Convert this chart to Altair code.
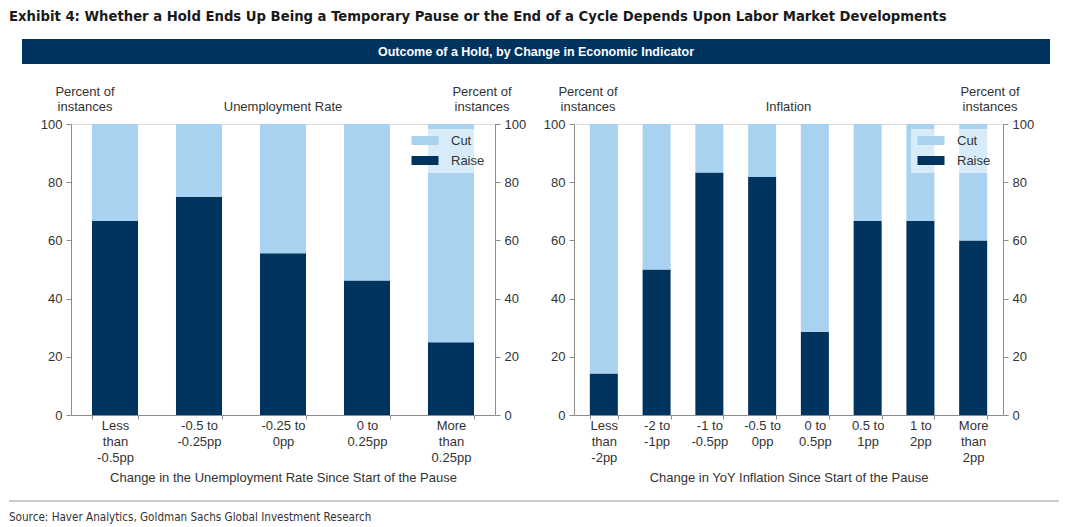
import altair as alt
import pandas as pd

# ---------------- data ----------------
unemp_cats = ["Less\nthan\n-0.5pp", "-0.5 to\n-0.25pp", "-0.25 to\n0pp", "0 to\n0.25pp", "More\nthan\n0.25pp"]
unemp_raise = [66.7, 75.0, 55.6, 46.2, 25.0]

infl_cats = ["Less\nthan\n-2pp", "-2 to\n-1pp", "-1 to\n-0.5pp", "-0.5 to\n0pp", "0 to\n0.5pp",
             "0.5 to\n1pp", "1 to\n2pp", "More\nthan\n2pp"]
infl_raise = [14.3, 50.0, 83.3, 81.8, 28.6, 66.7, 66.7, 60.0]

outcomes = ["Cut", "Raise"]
colors = ["#A9D2F1", "#00345F"]
y_ticks = [0, 20, 40, 60, 80, 100]

title_text = ("Exhibit 4: Whether a Hold Ends Up Being a Temporary Pause or the End of a Cycle "
              "Depends Upon Labor Market Developments")
banner_text = "Outcome of a Hold, by Change in Economic Indicator"
source_text = "Source: Haver Analytics, Goldman Sachs Global Investment Research"
ylab = "Percent of\ninstances"

FONT = "Liberation Sans"
NARROW = "DejaVu Sans Condensed"
TXT = "#333333"
AX = "#8c8c8c"
H = 291


def long_df(cats, vals):
    rows = []
    for c, r in zip(cats, vals):
        rows.append({"cat": c, "outcome": "Raise", "value": r, "ord": 0})
        rows.append({"cat": c, "outcome": "Cut", "value": round(100 - r, 1), "ord": 1})
    return pd.DataFrame(rows)


def txt(t, x, y, **kw):
    return alt.Chart(pd.DataFrame({"t": [t]})).mark_text(**kw).encode(
        x=alt.value(x), y=alt.value(y), text="t:N")


def panel(cats, vals, width, pin, pout, xtitle, center_title, legend_x, extra=()):
    df = long_df(cats, vals)
    base = alt.Chart(df)
    yax = dict(values=y_ticks, grid=False, domainColor=AX, tickColor=AX, tickSize=5,
               labelPadding=4, labelFontSize=13, labelColor=TXT, title=None, labelFont=FONT)
    x = alt.X("cat:N", sort=cats, title=xtitle,
              scale=alt.Scale(paddingInner=pin, paddingOuter=pout),
              axis=alt.Axis(labelAngle=0, labelExpr="split(datum.label, '\\n')",
                            tickBand="extent", tickSize=4, domainColor=AX, tickColor=AX,
                            labelFontSize=13, labelLineHeight=16, labelPadding=0,
                            labelColor=TXT, labelOverlap=False, labelFont=FONT,
                            titleFontSize=13, titleFontWeight="normal", titleColor=TXT,
                            titleFont=FONT, titlePadding=7, grid=False))
    bars = base.mark_bar().encode(
        x=x,
        y=alt.Y("value:Q", stack="zero", scale=alt.Scale(domain=[0, 100]),
                axis=alt.Axis(orient="left", **yax)),
        color=alt.Color("outcome:N", scale=alt.Scale(domain=outcomes, range=colors),
                        legend=alt.Legend(title=None, orient="none", legendX=legend_x, legendY=5,
                                          fillColor="rgba(255,255,255,0.55)", padding=5,
                                          symbolType="M-2.7,-0.9H2.7V0.9H-2.7Z", symbolSize=100,
                                          symbolOffset=8.5, symbolStrokeWidth=0,
                                          labelFontSize=13, labelColor=TXT,
                                          labelFont=FONT, rowPadding=6, labelOffset=19.5)),
        order=alt.Order("ord:Q"),
    )
    bars_r = base.mark_bar(opacity=0).encode(
        x=x,
        y=alt.Y("value:Q", stack="zero", scale=alt.Scale(domain=[0, 100]),
                axis=alt.Axis(orient="right", **yax)),
        order=alt.Order("ord:Q"),
    )
    texts = [
        txt(ylab, 14, -32, lineBreak="\n", lineHeight=15, fontSize=13, color=TXT, font=FONT, align="center"),
        txt(center_title, width / 2, -17, fontSize=13, color=TXT, font=FONT, align="center"),
        txt(ylab, width - 13, -32, lineBreak="\n", lineHeight=15, fontSize=13, color=TXT, font=FONT, align="center"),
    ]
    return alt.layer(bars, bars_r, *texts, *extra).resolve_axis(y="independent").properties(
        width=width, height=H)


extras_left = [
    txt(title_text, -62, -107, fontSize=14.7, fontWeight="bold", font=NARROW, color="#1a1a1a", align="left"),
    alt.Chart(pd.DataFrame({"a": [0]})).mark_rect(color="#00345F").encode(
        x=alt.value(-49), x2=alt.value(979), y=alt.value(-85), y2=alt.value(-60)),
    txt(banner_text, 465, -72, fontSize=12.5, fontWeight="bold", font=FONT, color="white",
        align="center", baseline="middle"),
    alt.Chart(pd.DataFrame({"a": [0]})).mark_rule(color="#9a9a9a", strokeWidth=1).encode(
        x=alt.value(-62), x2=alt.value(988), y=alt.value(377)),
    txt(source_text, -62, 394, fontSize=11.6, font=NARROW, color=TXT, align="left"),
]

left = panel(unemp_cats, unemp_raise, 424, 0.452, 0.25,
             "Change in the Unemployment Rate Since Start of the Pause", "Unemployment Rate", 334,
             extras_left)
right = panel(infl_cats, infl_raise, 429, 0.469, 0.30,
              "Change in YoY Inflation Since Start of the Pause", "Inflation", 337)

chart = alt.hconcat(left, right, spacing=79, bounds="flush").resolve_scale(
    color="independent").resolve_legend(color="independent").properties(
    padding={"left": 0, "top": 0, "right": 5, "bottom": 5}
).configure_view(stroke=None).configure(font=FONT)

chart.save("out.html", embed_options={"renderer": "svg", "actions": False})
